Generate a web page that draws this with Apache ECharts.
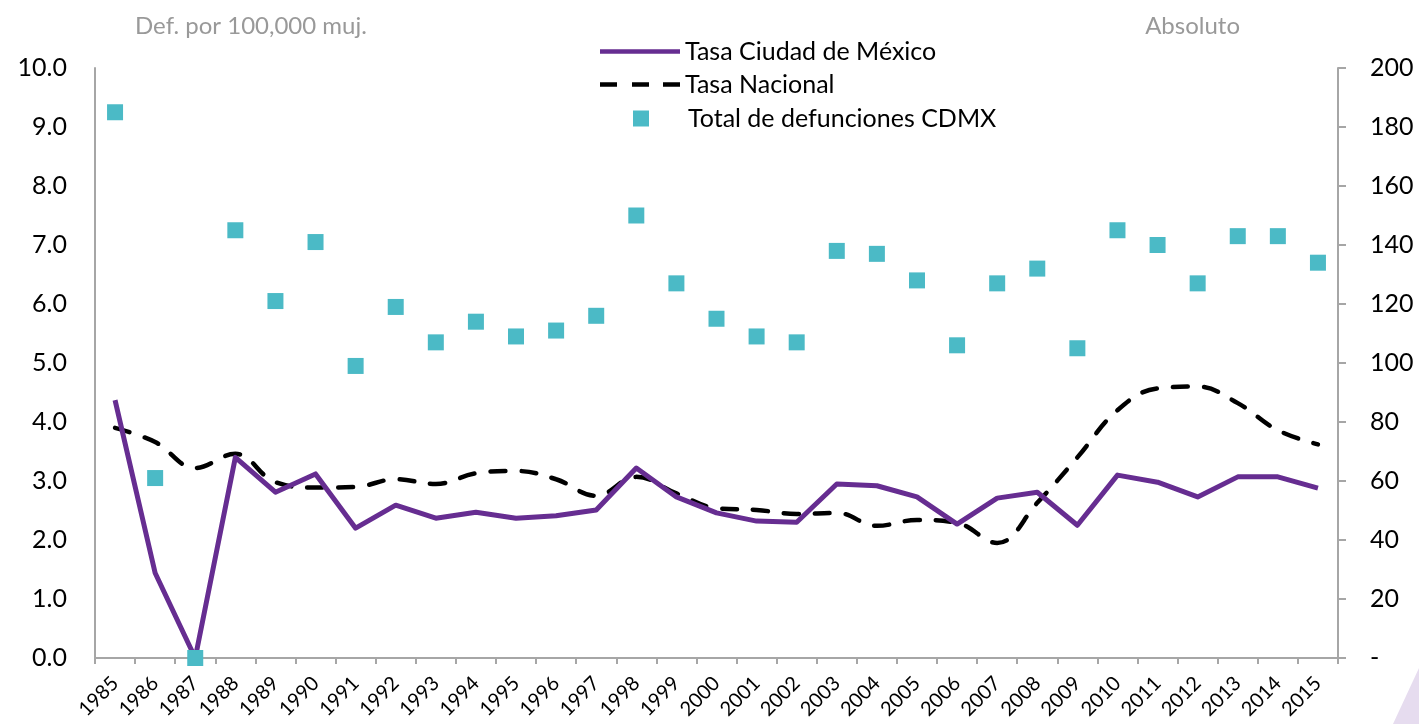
<!DOCTYPE html>
<html>
<head>
<meta charset="utf-8">
<script src="https://cdn.jsdelivr.net/npm/echarts@6/dist/echarts.min.js"></script>
<style>
  html, body { margin: 0; padding: 0; background: #fff; }
  #chart { width: 1419px; height: 724px; }
</style>
</head>
<body>
<div id="chart"></div>
<script>
const years = ["1985", "1986", "1987", "1988", "1989", "1990", "1991", "1992", "1993", "1994",
  "1995", "1996", "1997", "1998", "1999", "2000", "2001", "2002", "2003", "2004",
  "2005", "2006", "2007", "2008", "2009", "2010", "2011", "2012", "2013", "2014", "2015"];
// tasa por 100,000 mujeres
const tasaCdmx = [4.37, 1.44, 0, 3.4, 2.81, 3.12, 2.2, 2.59, 2.37, 2.47,
  2.37, 2.41, 2.51, 3.22, 2.73, 2.46, 2.32, 2.3, 2.95, 2.92,
  2.73, 2.27, 2.71, 2.81, 2.25, 3.1, 2.98, 2.73, 3.07, 3.07, 2.88];
const tasaNacional = [3.9, 3.66, 3.22, 3.46, 2.98, 2.89, 2.9, 3.03, 2.95, 3.13,
  3.17, 3.03, 2.75, 3.07, 2.79, 2.54, 2.51, 2.44, 2.46, 2.24,
  2.34, 2.29, 1.95, 2.63, 3.4, 4.2, 4.57, 4.6, 4.32, 3.86, 3.62];
// total absoluto
const totalCdmx = [185, 61, 0, 145, 121, 141, 99, 119, 107, 114,
  109, 111, 116, 150, 127, 115, 109, 107, 138, 137,
  128, 106, 127, 132, 105, 145, 140, 127, 143, 143, 134];

const FONT = "Lato";
const chart = echarts.init(document.getElementById("chart"));

const legendText = { fontFamily: FONT, fontSize: 25, color: "#000" };

chart.setOption({
  animation: false,
  textStyle: { fontFamily: FONT },
  grid: { left: 95, right: 81, top: 68, bottom: 66 },
  legend: [
    {
      orient: "vertical", left: 600, top: 39, padding: 0,
      itemWidth: 80, itemHeight: 14,
      icon: "path://M0,0h80v4.5h-80z",
      textStyle: legendText,
      data: ["Tasa Ciudad de México"],
    },
    {
      orient: "vertical", left: 600, top: 72, padding: 0,
      itemWidth: 80, itemHeight: 14,
      icon: "path://M0,0h17v4.5h-17zM32,0h17v4.5h-17zM63,0h17v4.5h-17z",
      textStyle: legendText,
      data: ["Tasa Nacional"],
    },
    {
      orient: "vertical", left: 633, top: 106, padding: 0,
      itemWidth: 16, itemHeight: 16, icon: "rect",
      textStyle: Object.assign({}, legendText, { padding: [0, 0, 0, 34] }),
      data: ["Total de defunciones CDMX"],
    },
  ],
  xAxis: {
    type: "category",
    data: years,
    axisLine: { lineStyle: { color: "#a6a6a6", width: 2 } },
    axisTick: { show: true, length: 6, lineStyle: { color: "#a6a6a6", width: 2 } },
    axisLabel: { rotate: 45, color: "#000", fontSize: 20, margin: 22 },
    splitLine: { show: false },
  },
  yAxis: [
    {
      type: "value",
      min: 0, max: 10, interval: 1,
      name: "Def. por 100,000 muj.",
      nameLocation: "end",
      nameGap: 30,
      nameTextStyle: { color: "#999", fontSize: 24, align: "left", padding: [0, 0, 0, 40] },
      axisLine: { show: true, lineStyle: { color: "#a6a6a6", width: 2 } },
      axisTick: { show: false },
      axisLabel: { color: "#000", fontSize: 25, margin: 28, formatter: (v) => v.toFixed(1) },
      splitLine: { show: false },
    },
    {
      type: "value",
      min: 0, max: 200, interval: 20,
      name: "Absoluto",
      nameLocation: "end",
      nameGap: 30,
      nameTextStyle: { color: "#999", fontSize: 24, align: "right", padding: [0, 98, 0, 0] },
      axisLine: { show: true, lineStyle: { color: "#a6a6a6", width: 2 } },
      axisTick: { show: true, length: 8, lineStyle: { color: "#a6a6a6", width: 2 } },
      axisLabel: { color: "#000", fontSize: 25, margin: 32, formatter: (v) => (v === 0 ? "-" : String(v)) },
      splitLine: { show: false },
    },
  ],
  series: [
    {
      name: "Tasa Ciudad de México",
      type: "line",
      yAxisIndex: 0,
      data: tasaCdmx,
      symbol: "none",
      lineStyle: { color: "#662d91", width: 5, join: "round" },
      itemStyle: { color: "#662d91" },
      z: 3,
    },
    {
      name: "Tasa Nacional",
      type: "line",
      yAxisIndex: 0,
      data: tasaNacional,
      symbol: "none",
      smooth: 0.4,
      lineStyle: { color: "#000", width: 4.5, type: [15, 16], cap: "round" },
      itemStyle: { color: "#000" },
      z: 2,
    },
    {
      name: "Total de defunciones CDMX",
      type: "scatter",
      yAxisIndex: 1,
      data: totalCdmx,
      symbol: "rect",
      symbolSize: 16,
      itemStyle: { color: "#4bbac6", opacity: 1 },
      z: 4,
    },
  ],
  graphic: [
    {
      type: "polygon",
      shape: { points: [[1419, 668], [1419, 724], [1393, 724]] },
      style: { fill: "#e6dcef" },
      silent: true,
    },
  ],
});
</script>
</body>
</html>
